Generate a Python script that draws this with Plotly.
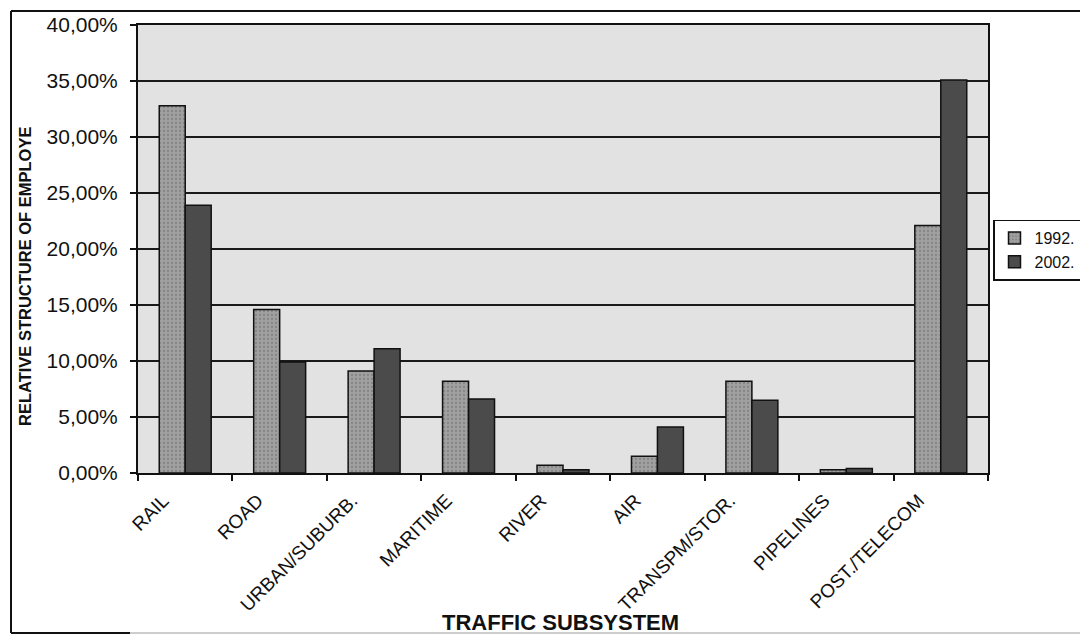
import plotly.graph_objects as go

# Employment structure by traffic subsystem
categories = ["RAIL", "ROAD", "URBAN/SUBURB.", "MARITIME", "RIVER", "AIR",
              "TRANSPM/STOR.", "PIPELINES", "POST./TELECOM"]
share_1992 = [32.8, 14.6, 9.1, 8.2, 0.7, 1.5, 8.2, 0.3, 22.1]
share_2002 = [23.9, 9.9, 11.1, 6.6, 0.3, 4.1, 6.5, 0.4, 35.1]
y_ticks = [0, 5, 10, 15, 20, 25, 30, 35, 40]
y_tick_labels = [f"{v:.2f}".replace(".", ",") + "%" for v in y_ticks]

FONT = "Liberation Sans, Arial, sans-serif"

fig = go.Figure()
fig.add_trace(go.Bar(
    name="1992.", x=categories, y=share_1992,
    marker=dict(color="#969696", line=dict(color="#111111", width=1.5),
                pattern=dict(shape=".", size=4, solidity=0.25,
                             fgcolor="#6a6a6a", bgcolor="#a0a0a0")),
))
fig.add_trace(go.Bar(
    name="2002.", x=categories, y=share_2002,
    marker=dict(color="#4b4b4b", line=dict(color="#111111", width=1.5)),
))

# plot area in pixels: x 138..988, y 25..473
L, R, T, B = 138, 988, 25, 473
W, H = 1080, 636
pw, ph = R - L, B - T


def px(x):
    return (x - L) / pw


def py(y):
    return (B - y) / ph


fig.update_layout(
    width=W, height=H,
    margin=dict(l=L, r=W - R, t=T, b=H - B, autoexpand=False),
    paper_bgcolor="white",
    plot_bgcolor="#e2e2e2",
    barmode="group",
    bargap=0.45,
    bargroupgap=0.0,
    font=dict(family=FONT, color="#111111"),
    showlegend=True,
    legend=dict(
        x=px(993), y=py(250), xanchor="left", yanchor="middle",
        bgcolor="white", bordercolor="#111111", borderwidth=1.5,
        font=dict(size=16, family=FONT, color="#111111"),
        tracegroupgap=0, itemwidth=30,
    ),
    xaxis=dict(
        tickangle=-45,
        tickfont=dict(size=19, family=FONT, color="#111111"),
        ticks="outside", tickson="boundaries", ticklen=6,
        tickcolor="#111111", tickwidth=1.5,
        ticklabelshift=-22, ticklabelstandoff=7,
        showline=True, linecolor="#111111", linewidth=2, mirror=True,
        showgrid=False,
    ),
    yaxis=dict(
        range=[0, 40],
        tickvals=y_ticks, ticktext=y_tick_labels,
        tickfont=dict(size=21, family=FONT, color="#111111"),
        ticks="outside", ticklen=6, tickcolor="#111111", tickwidth=1.5,
        ticklabelstandoff=8,
        showline=True, linecolor="#111111", linewidth=2, mirror=True,
        showgrid=True, gridcolor="#1a1a1a", gridwidth=2,
        zeroline=False,
    ),
    annotations=[
        dict(text="<b>RELATIVE STRUCTURE OF EMPLOYE</b>", xref="paper", yref="paper",
             x=px(25), y=py(277), textangle=-90, showarrow=False,
             xanchor="center", yanchor="middle",
             font=dict(size=16.5, family=FONT, color="#111111")),
        dict(text="<b>TRAFFIC SUBSYSTEM</b>", xref="paper", yref="paper",
             x=px(560), y=py(622), showarrow=False,
             xanchor="center", yanchor="middle",
             font=dict(size=22, family=FONT, color="#111111")),
    ],
    shapes=[
        # outer chart frame: top and left edges, and the bottom edge
        dict(type="line", xref="paper", yref="paper",
             x0=px(11), x1=px(1080), y0=py(11), y1=py(11),
             line=dict(color="#111111", width=2)),
        dict(type="line", xref="paper", yref="paper",
             x0=px(11), x1=px(11), y0=py(11), y1=py(633),
             line=dict(color="#111111", width=2)),
        dict(type="line", xref="paper", yref="paper",
             x0=px(11), x1=px(130), y0=py(633), y1=py(633),
             line=dict(color="#111111", width=2)),
        dict(type="line", xref="paper", yref="paper",
             x0=px(130), x1=px(1080), y0=py(633), y1=py(633),
             line=dict(color="#bdbdbd", width=1.5)),
    ],
)

fig.write_html("out.html")
